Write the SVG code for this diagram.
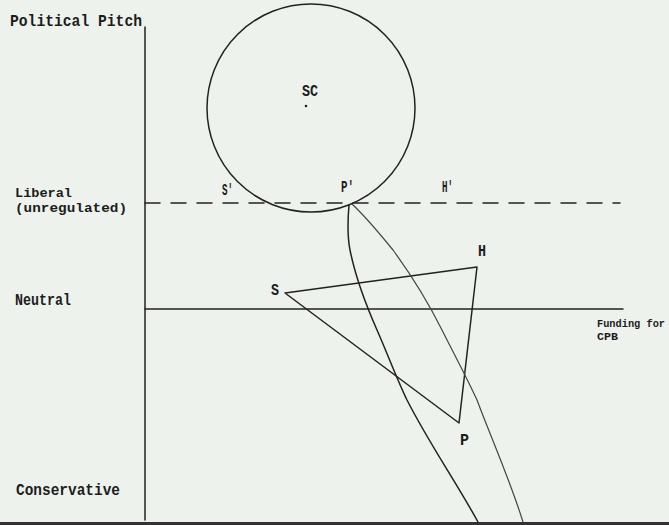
<svg xmlns="http://www.w3.org/2000/svg" width="669" height="525" viewBox="0 0 669 525">
<style>
.t{font-family:"Liberation Mono","DejaVu Sans Mono",monospace;font-weight:bold;font-size:16px;fill:#1c1c1c}
.s{font-size:13px}
.f{font-size:11px}
.ln{fill:none;stroke:#222;stroke-width:1.5;stroke-linejoin:round;stroke-linecap:round}
.thin{fill:none;stroke:#444;stroke-width:1.2}
</style>
<rect width="669" height="525" fill="#eef2ec"/>
<g id="axes">
<line class="ln" x1="145" y1="27" x2="145" y2="520"/>
<line class="ln" x1="145" y1="203" x2="620" y2="203" stroke-dasharray="15 11"/>
<line class="ln" x1="145" y1="309" x2="623" y2="309"/>
<rect x="0" y="522" width="669" height="3" fill="#333"/>
</g>
<g id="labels">
<text class="t" x="10" y="26" textLength="132" lengthAdjust="spacingAndGlyphs">Political Pitch</text>
<text class="t s" x="15" y="197" textLength="57" lengthAdjust="spacingAndGlyphs">Liberal</text>
<text class="t s" x="15" y="212" textLength="112" lengthAdjust="spacingAndGlyphs">(unregulated)</text>
<text class="t" x="15" y="305" textLength="56" lengthAdjust="spacingAndGlyphs">Neutral</text>
<text class="t" x="16" y="495" textLength="104" lengthAdjust="spacingAndGlyphs">Conservative</text>
<text class="t f" x="597" y="327" textLength="68" lengthAdjust="spacingAndGlyphs">Funding for</text>
<text class="t f" x="597" y="340" textLength="21" lengthAdjust="spacingAndGlyphs">CPB</text>
</g>
<g id="node-SC">
<circle class="ln" cx="311" cy="108" r="104"/>
<text class="t" x="302" y="96" textLength="16" lengthAdjust="spacingAndGlyphs">SC</text>
<circle cx="306" cy="106" r="1.3" fill="#222"/>
</g>
<g id="node-Sprime"><text class="t" x="222" y="195" textLength="11" lengthAdjust="spacingAndGlyphs">S'</text></g>
<g id="node-Pprime"><text class="t" x="341" y="192" textLength="13" lengthAdjust="spacingAndGlyphs">P'</text></g>
<g id="node-Hprime"><text class="t" x="442" y="192" textLength="11" lengthAdjust="spacingAndGlyphs">H'</text></g>
<g id="node-S"><text class="t" x="271" y="295" textLength="8" lengthAdjust="spacingAndGlyphs">S</text></g>
<g id="node-H"><text class="t" x="478" y="256" textLength="8" lengthAdjust="spacingAndGlyphs">H</text></g>
<g id="node-P"><text class="t" x="460" y="445" textLength="9" lengthAdjust="spacingAndGlyphs">P</text></g>
<g id="connectors">
<polygon class="ln" points="285,293 477,267 459,423"/>
<path class="ln" d="M349,205 C347,228 348,240 350,250 C356,280 366,305 377,330 C388,355 396,377 407,400 C430,445 455,480 478,522"/>
<path class="thin" d="M352,204 C367,218 380,234 393,250 C412,276 428,302 442,330 C454,354 466,376 477,400 C492,440 510,480 523,522"/>
</g>
</svg>
